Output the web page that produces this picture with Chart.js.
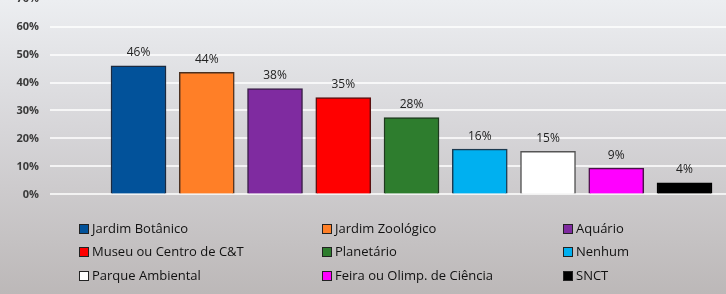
<!DOCTYPE html>
<html>
<head>
<meta charset="utf-8">
<script src="https://cdn.jsdelivr.net/npm/chart.js@4/dist/chart.umd.min.js"></script>
<style>
  html, body { margin: 0; padding: 0; }
  body {
    width: 726px; height: 294px; overflow: hidden; position: relative;
    background: linear-gradient(to bottom, #eceef1 0%, #d6d5d8 45%, #bcb8b8 100%);
    font-family: "Open Sans", sans-serif;
  }
  #wrap { position: absolute; left: 0; top: -19px; width: 726px; height: 231px; }
  #legend { position: absolute; left: 0; top: 0; width: 726px; height: 294px; pointer-events: none; }
  .item { position: absolute; font-size: 13px; color: #111; white-space: nowrap; line-height: 16px; }
  .item i { display: inline-block; width: 8px; height: 8px; border: 1px solid #222; margin-right: 3px; vertical-align: -1px; }
</style>
</head>
<body>
<div id="wrap"><canvas id="c"></canvas></div>
<div id="legend"></div>
<script>
// categories and values (%)
const categories = ['Jardim Botânico','Jardim Zoológico','Aquário','Museu ou Centro de C&T','Planetário','Nenhum','Parque Ambiental','Feira ou Olimp. de Ciência','SNCT'];
const values = [46.0, 43.6, 37.8, 34.6, 27.5, 16.2, 15.4, 9.4, 4.1];
const yTicks = [0, 10, 20, 30, 40, 50, 60, 70];

const colors = ['#02529a','#ff7f27','#7f2ba0','#ff0000','#2e7d2e','#00b0f0','#ffffff','#ff00ff','#000000'];
const borders = ['#1b2a40','#4a3020','#3a1f48','#5a1010','#1e3a1e','#1c3a50','#555555','#4a1048','#000000'];

const valueLabels = {
  id: 'valueLabels',
  afterDatasetsDraw(chart) {
    const ctx = chart.ctx;
    ctx.save();
    ctx.font = '12px "Open Sans"';
    ctx.fillStyle = '#222';
    ctx.textAlign = 'center';
    ctx.textBaseline = 'middle';
    chart.getDatasetMeta(0).data.forEach((bar, i) => {
      ctx.fillText(Math.round(values[i]) + '%', bar.x, bar.y - 13);
    });
    ctx.restore();
  }
};

new Chart(document.getElementById('c').getContext('2d'), {
  type: 'bar',
  data: {
    datasets: [{
      data: values.map((v, i) => ({ x: i, y: v })),
      backgroundColor: colors,
      borderColor: borders,
      borderWidth: 1.5,
      barThickness: 55
    }]
  },
  options: {
    responsive: true, maintainAspectRatio: false, animation: false,
    layout: { padding: { top: 2, bottom: 4, left: 0, right: 0 } },
    plugins: { legend: { display: false }, tooltip: { enabled: false } },
    scales: {
      x: { type: 'linear', display: false, offset: false, min: -1.297, max: 8.608 },
      y: {
        min: 0, max: 70,
        afterFit: s => { s.width = 50; },
        afterBuildTicks: s => { s.ticks = yTicks.map(v => ({ value: v })); },
        border: { display: false },
        grid: { color: 'rgba(255,255,255,0.75)', lineWidth: 2, drawTicks: false },
        ticks: { padding: 11, color: '#3a3a3a', font: { family: 'Open Sans', size: 11, weight: 'bold' }, callback: v => v + '%' }
      }
    }
  },
  plugins: [valueLabels]
});

// legend, 3 columns
const legend = document.getElementById('legend');
const colX = [79, 322, 563];
const rowY = [220, 243, 267];
categories.forEach((name, i) => {
  const d = document.createElement('div');
  d.className = 'item';
  d.style.left = colX[i % 3] + 'px';
  d.style.top = rowY[Math.floor(i / 3)] + 'px';
  const sw = document.createElement('i');
  sw.style.background = colors[i];
  d.appendChild(sw);
  d.appendChild(document.createTextNode(name));
  legend.appendChild(d);
});
</script>
</body>
</html>
